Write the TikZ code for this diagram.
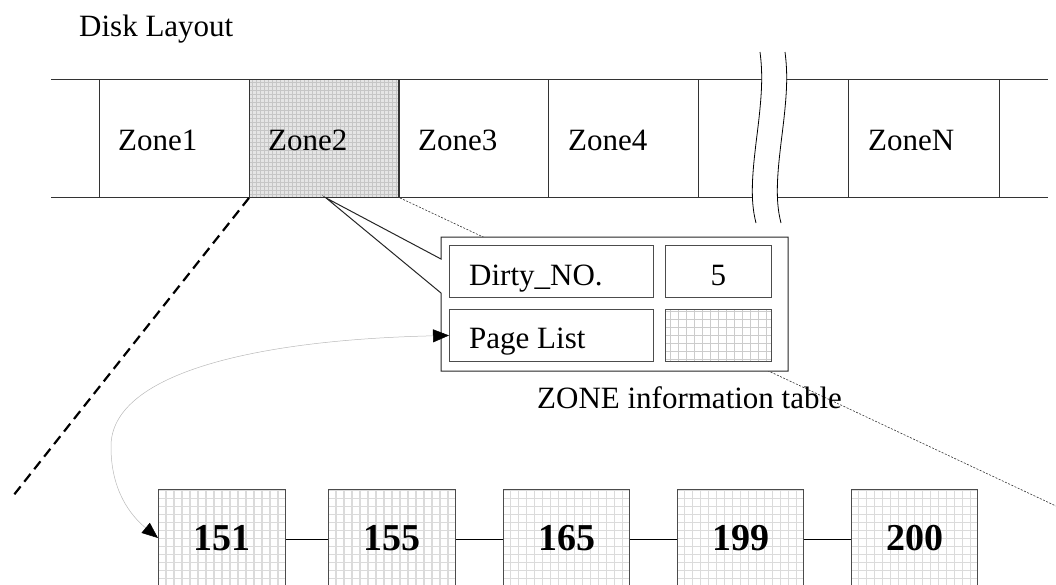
\documentclass[tikz,border=0pt]{standalone}
\usepackage{fontspec}
\setmainfont{Liberation Serif}
\usetikzlibrary{arrows.meta,calc}
\tikzset{
  txt/.style={font=\fontsize{31}{36}\selectfont, inner sep=0pt, anchor=base west},
  num/.style={font=\fontsize{38}{42}\selectfont\bfseries, inner sep=0pt, anchor=base},
  stripline/.style={draw=black!80, line width=0.9pt},
  zonecell/.style={draw=black!80, line width=0.9pt, minimum width=150pt, minimum height=118pt, inner sep=0pt, anchor=north west},
  finegrid/.style={fill=gray!20, path picture={\draw[gray!45, line width=0.5pt, step=4pt] ([shift={(-4pt,-4pt)}]path picture bounding box.south west) grid ([shift={(4pt,4pt)}]path picture bounding box.north east);}},
  coarsegrid/.style={fill=white, path picture={\draw[gray!#1, line width=1.4pt, step=8pt] ([shift={(-8pt,-8pt)}]path picture bounding box.south west) grid ([shift={(8pt,8pt)}]path picture bounding box.north east);}},
  tcell/.style={draw=black!70, line width=0.9pt, inner sep=0pt, anchor=north west, minimum height=52pt},
  listbox/.style={draw=black!70, line width=1pt, inner sep=0pt, anchor=north west, minimum width=127pt, minimum height=130pt, coarsegrid=28},
  callout/.style={draw=black!85, line width=1pt, fill=white},
  link/.style={draw=black, line width=0.9pt},
  wave/.style={draw=black, line width=0.8pt},
  bigdash/.style={draw=black, line width=2.2pt, dash pattern=on 10pt off 6pt},
  smalldot/.style={draw=black!80, line width=0.6pt, dash pattern=on 2pt off 1.5pt},
  curvearrow/.style={draw=gray!55, line width=0.5pt, {Triangle[length=16pt,width=13pt,color=black]}-{Triangle[length=16pt,width=13pt,color=black]}}
}
\begin{document}
\begin{tikzpicture}[x=1pt,y=-1pt]
\useasboundingbox (0,0) rectangle (1056,584);
\clip (0,0) rectangle (1056,584);

\node[txt] (title) at (79,36) {Disk Layout};

% strip
\draw[stripline] (51,79) -- (1048,79);
\draw[stripline] (51,197) -- (1048,197);
\node[zonecell] (z1) at (99,79) {};
\node[zonecell, finegrid] (z2) at (249,79) {};
\node[zonecell] (z3) at (398,79) {};
\node[zonecell] (z4) at (548,79) {};
\node[zonecell] (z5) at (698,79) {};
\node[zonecell, minimum width=151pt] (zn) at (848,79) {};
\node[txt] (t1) at (118,150) {Zone1};
\node[txt] (t2) at (268,150) {Zone2};
\node[txt] (t3) at (418,150) {Zone3};
\node[txt] (t4) at (568,150) {Zone4};
\node[txt] (tn) at (868,150) {ZoneN};

% break mark
\fill[white] (760,52) .. controls (763,75) and (762,95) .. (757,135) .. controls (752,175) and (750,200) .. (756,223)
  -- (781,223) .. controls (775,200) and (777,175) .. (782,135) .. controls (787,95) and (788,75) .. (785,52) -- cycle;
\draw[wave] (760,52) .. controls (763,75) and (762,95) .. (757,135) .. controls (752,175) and (750,200) .. (756,223);
\draw[wave] (785,52) .. controls (788,75) and (787,95) .. (782,135) .. controls (777,175) and (775,200) .. (781,223);

% zoom lines
\coordinate (dotend) at (1056,506);
\coordinate (dashend) at (13,496);
\draw[smalldot] (z2.south east) -- (dotend);
\draw[bigdash] (z2.south west) -- (dashend);

% callout table
\coordinate (ztip) at ($(z2.south west)+(77,0)$);
\draw[callout] (441,237) -- (441,259) -- (ztip) -- (441,293) -- (441,371) -- (788,371) -- (788,237) -- cycle;
\node[tcell, minimum width=204pt] (dirty) at (449,245) {};
\node[tcell, minimum width=106pt] (val) at (665,245) {};
\node[tcell, minimum width=204pt] (plist) at (449,309) {};
\node[tcell, minimum width=106pt, coarsegrid=40] (ptr) at (665,309) {};
\node[txt] (tdirty) at (469,285) {Dirty\_NO.};
\node[txt, anchor=base] (tval) at (val.center |- 0,285) {5};
\node[txt] (tplist) at (469,348) {Page List};
\node[txt] (tcap) at (537,408) {ZONE information table};

% page list
\node[listbox] (p1) at (158,489) {};
\node[listbox, minimum width=127pt] (p2) at (328,489) {};
\node[listbox, minimum width=126pt] (p3) at (503,489) {};
\node[listbox, minimum width=126pt] (p4) at (677,489) {};
\node[listbox, minimum width=126pt] (p5) at (851,489) {};
\node[num] (n1) at ($(p1.north)+(0,61)$) {151};
\node[num] (n2) at ($(p2.north)+(0,61)$) {155};
\node[num] (n3) at ($(p3.north)+(0,61)$) {165};
\node[num] (n4) at ($(p4.north)+(0,61)$) {199};
\node[num] (n5) at ($(p5.north)+(0,61)$) {200};
\draw[link] ($(p1.north east)+(0,50)$) -- ($(p2.north west)+(0,50)$);
\draw[link] ($(p2.north east)+(0,50)$) -- ($(p3.north west)+(0,50)$);
\draw[link] ($(p3.north east)+(0,50)$) -- ($(p4.north west)+(0,50)$);
\draw[link] ($(p4.north east)+(0,50)$) -- ($(p5.north west)+(0,50)$);

% curved pointer
\coordinate (p1in) at ($(p1.north west)+(0,49)$);
\draw[curvearrow] (plist.west) .. controls (250,340) and (110,375) .. (111,447) .. controls (111,490) and (130,515) .. (p1in);
\end{tikzpicture}
\end{document}
